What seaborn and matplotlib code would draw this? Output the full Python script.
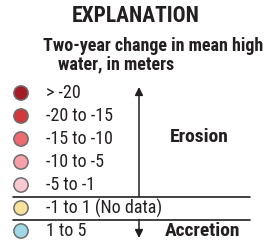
import matplotlib
matplotlib.use("Agg")
import matplotlib.pyplot as plt
import seaborn as sns
import pandas as pd

# ---- data ----
title = "EXPLANATION"
subtitle = ["Two-year change in mean high", "water, in meters"]
class_labels = ["> -20", "-20 to -15", "-15 to -10", "-10 to -5", "-5 to -1",
                "-1 to 1 (No data)", "1 to 5"]
class_colors = ["#A51C24", "#D3393A", "#EE6B70", "#F6A1AA", "#F9C9D2",
                "#F9E29C", "#9FD9E8"]
direction_labels = ["Erosion", "Accretion"]

sns.set_theme(style="white")
plt.rcParams["font.family"] = ["Roboto Condensed", "Liberation Sans Narrow",
                               "DejaVu Sans"]
plt.rcParams["font.stretch"] = "condensed"

W, H = 270, 244
fig = plt.figure(figsize=(W / 100, H / 100), dpi=100)
ax = fig.add_axes([0, 0, 1, 1])
ax.set_xlim(0, W)
ax.set_ylim(H, 0)
ax.axis("off")

# layout
y0, step = 93, 23
xc, xt = 21, 46
rows = [y0 + i * step for i in range(len(class_labels))]
df = pd.DataFrame({"label": class_labels, "row": rows, "x": [xc] * len(rows)})

sns.scatterplot(data=df, x="x", y="row", hue="label", palette=class_colors,
                s=105, edgecolor="#6d6d6d", linewidth=1.1, legend=False, ax=ax,
                zorder=3)
for lab, y in zip(df["label"], df["row"]):
    ax.text(xt, y, lab, fontsize=13, va="center", ha="left", color="#231f20",
            stretch="condensed")

ax.text(136, 16, title, fontsize=15.5, fontweight="bold", ha="center",
        va="center", color="#231f20", stretch="condensed")
ax.text(153, 46, subtitle[0], fontsize=13, fontweight="bold", ha="center",
        va="center", color="#231f20", stretch="condensed")
ax.text(58, 64, subtitle[1], fontsize=13, fontweight="bold", ha="left",
        va="center", color="#231f20", stretch="condensed")

# separating lines around "no data" row
sep_top = (rows[4] + rows[5]) / 2
sep_bot = (rows[5] + rows[6]) / 2
for yy in (sep_top, sep_bot):
    ax.plot([13, 250], [yy, yy], color="#231f20", lw=1.2)

# arrows
xa = 139
ax.annotate("", xy=(xa, 87), xytext=(xa, sep_top),
            arrowprops=dict(arrowstyle="-|>", color="#231f20", lw=1.1,
                            mutation_scale=12, shrinkA=0, shrinkB=0))
ax.annotate("", xy=(xa, 238), xytext=(xa, sep_bot),
            arrowprops=dict(arrowstyle="-|>", color="#231f20", lw=1.1,
                            mutation_scale=12, shrinkA=0, shrinkB=0))

ax.text(199, 137, direction_labels[0], fontsize=14, fontweight="bold",
        ha="center", va="center", color="#231f20", stretch="condensed")
ax.text(203, rows[6], direction_labels[1], fontsize=14, fontweight="bold",
        ha="center", va="center", color="#231f20", stretch="condensed")

fig.savefig("out.png", dpi=100)
